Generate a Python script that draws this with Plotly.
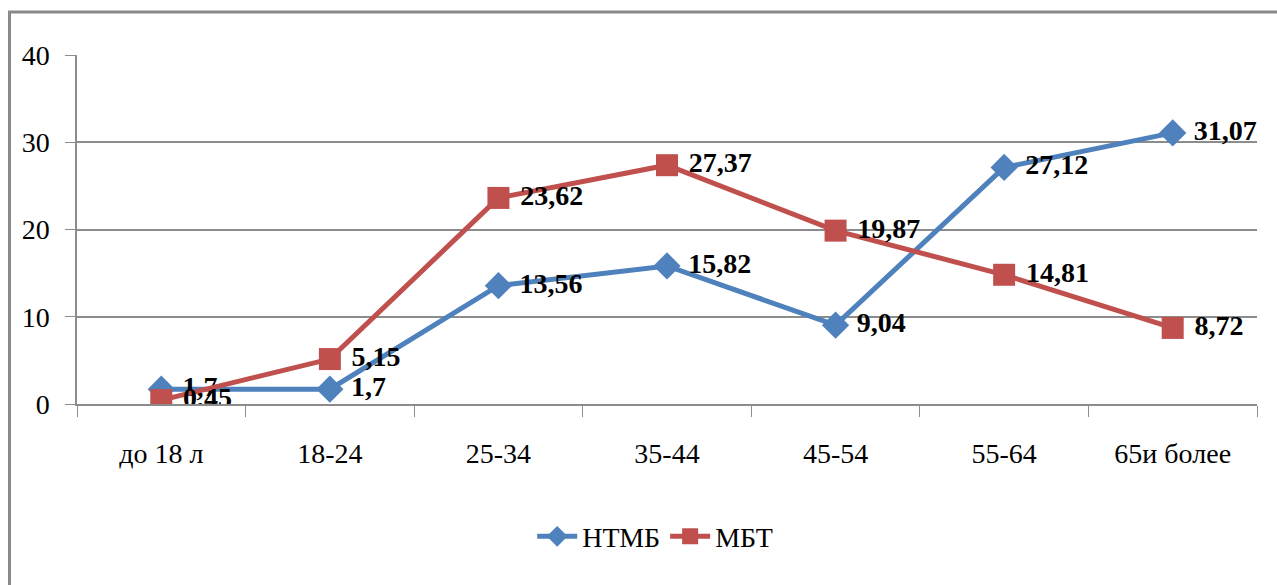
import plotly.graph_objects as go

categories = ["до 18 л", "18-24", "25-34", "35-44", "45-54", "55-64", "65и более"]
ntmb = [1.7, 1.7, 13.56, 15.82, 9.04, 27.12, 31.07]
mbt = [0.45, 5.15, 23.62, 27.37, 19.87, 14.81, 8.72]
ntmb_labels = ["1,7", "1,7", "13,56", "15,82", "9,04", "27,12", "31,07"]
mbt_labels = ["0,45", "5,15", "23,62", "27,37", "19,87", "14,81", "8,72"]

FONT = "Liberation Serif"
BLUE = "#4F81BD"
RED = "#C0504D"
GRID = "#8C8C8C"

fig = go.Figure()
fig.add_trace(go.Scatter(
    x=categories, y=ntmb, name="НТМБ", mode="lines+markers+text",
    line=dict(color=BLUE, width=5),
    marker=dict(symbol="diamond", size=21, color=BLUE),
    text=ntmb_labels, texttemplate="\u00a0%{text}", textposition="middle right",
    textfont=dict(family=FONT, size=28, color="black", weight="bold"),
))
fig.add_trace(go.Scatter(
    x=categories, y=mbt, name="МБТ", mode="lines+markers+text",
    line=dict(color=RED, width=5),
    marker=dict(symbol="square", size=22, color=RED),
    text=mbt_labels, texttemplate="\u00a0%{text}", textposition="middle right",
    textfont=dict(family=FONT, size=28, color="black", weight="bold"),
))

fig.update_layout(
    width=1277, height=585,
    margin=dict(l=77, r=20, t=55, b=181),
    paper_bgcolor="white", plot_bgcolor="white",
    font=dict(family=FONT, size=28, color="black"),
    showlegend=True,
    legend=dict(orientation="h", x=0.49, xanchor="center", y=-0.38, yanchor="middle",
                font=dict(family=FONT, size=28, color="black"), itemwidth=40),
    xaxis=dict(type="category", showgrid=False, showline=True, linecolor=GRID, linewidth=1.5,
               ticks="outside", tickson="boundaries", ticklen=11, tickcolor=GRID,
               ticklabelstandoff=24, tickfont=dict(family=FONT, size=28),
               range=[-0.5, 6.5], fixedrange=True),
    yaxis=dict(range=[0, 40], dtick=10, showgrid=True, gridcolor=GRID, gridwidth=1.5,
               showline=True, linecolor=GRID, linewidth=1.5, zeroline=False,
               ticks="outside", ticklen=10, tickcolor=GRID, ticklabelstandoff=10,
               tickfont=dict(family=FONT, size=28)),
    shapes=[dict(type="rect", xref="paper", yref="paper",
                 x0=-0.0572, x1=1.2, y0=-2, y1=1.123,
                 line=dict(color="#8A8A8A", width=3), layer="above")],
)

fig.write_html("out.html")
